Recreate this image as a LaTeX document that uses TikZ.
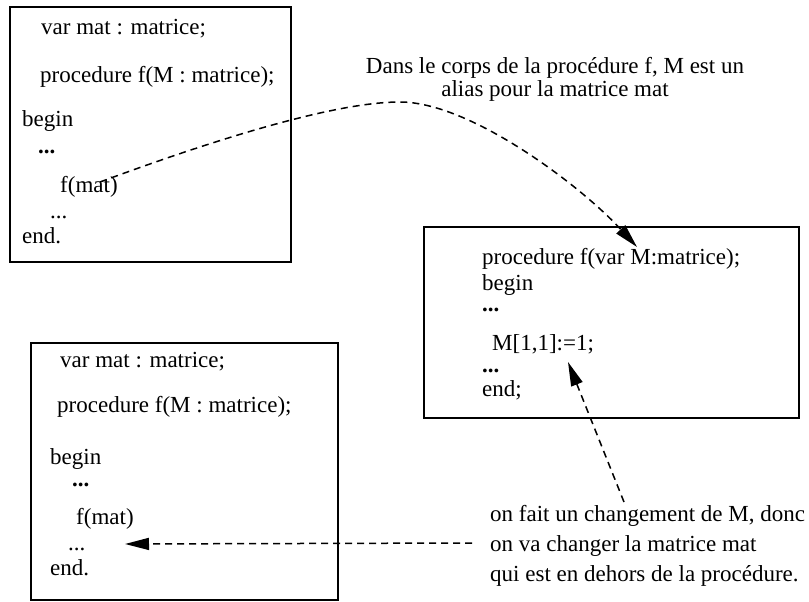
\documentclass[tikz,border=0pt]{standalone}
\usepackage{fontspec}
\setmainfont{Liberation Serif}
\usetikzlibrary{arrows.meta}
\begin{document}
\begin{tikzpicture}[x=1pt,y=-1pt,
  codebox/.style={draw,line width=1.5pt},
  txt/.style={anchor=mid west,inner sep=0pt,font=\fontsize{23}{27}\selectfont},
  ctxt/.style={anchor=mid,inner sep=0pt,font=\fontsize{23}{27}\selectfont},
  dashconn/.style={line width=1.5pt,dash pattern=on 7pt off 5pt,-{Triangle[length=24pt,width=12pt]}}]
\useasboundingbox (0,0) rectangle (809,602);
% box 1
\draw[codebox] (10,7) rectangle (291,262);
\node[txt] (a1) at (41,32) {var mat : matrice;};
\node[txt] (a2) at (40,80) {procedure f(M : matrice);};
\node[txt] (a3) at (22,124) {begin};
\node[txt] (a4) at (38,151) {\textbf{...}};
\node[txt] (a5) at (60,190) {f(mat)};
\node[txt] (a6) at (50,216) {...};
\node[txt] (a7) at (22,241) {end.};
% box 2
\draw[codebox] (424,227) rectangle (799,418);
\node[txt] (b1) at (482,262) {procedure f(var M:matrice);};
\node[txt] (b2) at (482,288) {begin};
\node[txt] (b3) at (482,309) {\textbf{...}};
\node[txt] (b4) at (492,348) {M[1,1]:=1;};
\node[txt] (b5) at (482,370) {\textbf{...}};
\node[txt] (b6) at (482,394) {end;};
% box 3
\draw[codebox] (31,343) rectangle (338,600);
\node[txt] (c1) at (60,365) {var mat : matrice;};
\node[txt] (c2) at (57,410) {procedure f(M : matrice);};
\node[txt] (c3) at (50,462) {begin};
\node[txt] (c4) at (72,484) {\textbf{...}};
\node[txt] (c5) at (76,522) {f(mat)};
\node[txt] (c6) at (68,548) {...};
\node[txt] (c7) at (50,573) {end.};
% annotations
\node[ctxt] (n1) at (555,71) {Dans le corps de la procédure f, M est un};
\node[ctxt] (n2) at (555,94) {alias pour la matrice mat};
\node[txt] (m1) at (490,519) {on fait un changement de M, donc};
\node[txt] (m2) at (490,549) {on va changer la matrice mat};
\node[txt] (m3) at (490,579) {qui est en dehors de la procédure.};
% connectors
\coordinate (s1) at (100,182);
\coordinate (p1) at (400,102);
\coordinate (e1) at (637,247);
\draw[dashconn] (s1) .. controls (200,145) and (330,102) .. (p1)
  .. controls (470,102) and (580,185) .. (e1);
\coordinate (s2) at (624,502);
\coordinate (e2) at (568,362);
\draw[dashconn] (s2) -- (e2);
\coordinate (s3) at (472,543);
\coordinate (e3) at (125,544);
\draw[dashconn] (s3) -- (e3);
\end{tikzpicture}
\end{document}
